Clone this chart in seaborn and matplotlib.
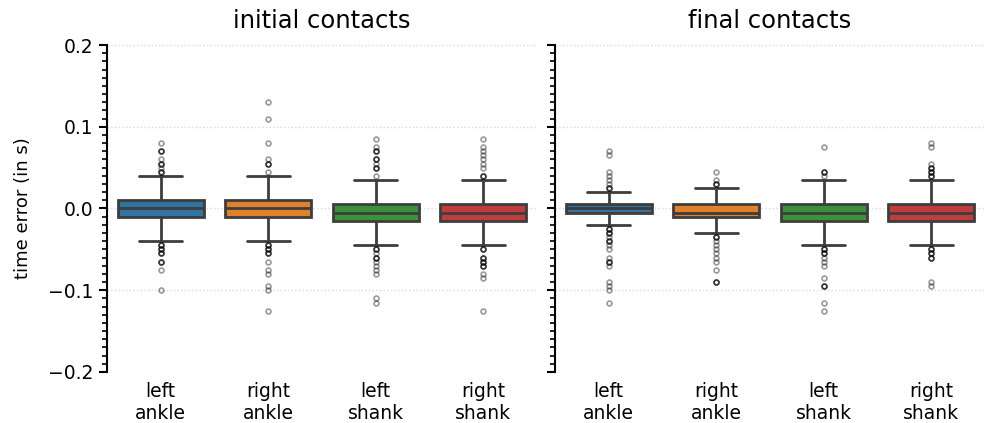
import matplotlib
matplotlib.use("Agg")
import matplotlib.pyplot as plt
from matplotlib.ticker import MultipleLocator
import numpy as np
import pandas as pd
import seaborn as sns

# categories
events = ["initial contacts", "final contacts"]
sensors = ["left\nankle", "right\nankle", "left\nshank", "right\nshank"]

# time errors (s), recorded on a 5 ms grid -> values + how often they occur
# initial contacts
ic_left_ankle_vals = [-0.1, -0.075, -0.065, -0.055, -0.05, -0.045,
                      -0.04, -0.035, -0.03, -0.025, -0.02, -0.015, -0.01, -0.005, 0.0,
                      0.005, 0.01, 0.015, 0.02, 0.025, 0.03, 0.035, 0.04,
                      0.045, 0.05, 0.055, 0.06, 0.07, 0.08]
ic_left_ankle_cnts = [1, 1, 3, 3, 3, 3,
                      3, 5, 8, 12, 18, 25, 60, 45, 50,
                      45, 60, 25, 18, 12, 8, 5, 3,
                      3, 1, 3, 1, 3, 1]

ic_right_ankle_vals = [-0.125, -0.1, -0.095, -0.08, -0.075, -0.065, -0.055, -0.05, -0.045,
                       -0.04, -0.035, -0.03, -0.025, -0.02, -0.015, -0.01, -0.005, 0.0,
                       0.005, 0.01, 0.015, 0.02, 0.025, 0.03, 0.035, 0.04,
                       0.045, 0.055, 0.06, 0.08, 0.11, 0.13]
ic_right_ankle_cnts = [1, 1, 1, 1, 1, 1, 3, 3, 3,
                       3, 5, 8, 12, 18, 25, 60, 45, 50,
                       45, 60, 25, 18, 12, 8, 5, 3,
                       1, 3, 1, 1, 1, 1]

ic_left_shank_vals = [-0.115, -0.11, -0.08, -0.075, -0.07, -0.065, -0.06, -0.055, -0.05,
                      -0.045, -0.04, -0.035, -0.03, -0.025, -0.02, -0.015, -0.01, -0.005,
                      0.0, 0.005, 0.01, 0.015, 0.02, 0.025, 0.03, 0.035,
                      0.04, 0.05, 0.055, 0.06, 0.07, 0.075, 0.085]
ic_left_shank_cnts = [1, 1, 1, 1, 1, 1, 3, 1, 3,
                      3, 5, 8, 12, 18, 25, 60, 45, 50,
                      45, 60, 25, 18, 12, 8, 5, 3,
                      1, 3, 1, 3, 3, 1, 1]

ic_right_shank_vals = [-0.125, -0.085, -0.08, -0.07, -0.065, -0.06, -0.05,
                       -0.045, -0.04, -0.035, -0.03, -0.025, -0.02, -0.015, -0.01, -0.005,
                       0.0, 0.005, 0.01, 0.015, 0.02, 0.025, 0.03, 0.035,
                       0.04, 0.05, 0.055, 0.06, 0.065, 0.07, 0.075, 0.085]
ic_right_shank_cnts = [1, 1, 1, 3, 3, 3, 3,
                       3, 5, 8, 12, 18, 25, 60, 45, 50,
                       45, 60, 25, 18, 12, 8, 5, 3,
                       3, 1, 1, 1, 1, 1, 1, 1]

# final contacts
fc_left_ankle_vals = [-0.115, -0.1, -0.095, -0.09, -0.07, -0.065, -0.06, -0.05, -0.045,
                      -0.04, -0.035, -0.03, -0.025,
                      -0.02, -0.015, -0.01, -0.005, 0.0, 0.005, 0.01, 0.015, 0.02,
                      0.025, 0.03, 0.035, 0.04, 0.045, 0.065, 0.07]
fc_left_ankle_cnts = [1, 1, 1, 1, 1, 3, 1, 1, 1,
                      3, 1, 3, 3,
                      6, 12, 25, 60, 80, 60, 25, 12, 6,
                      3, 1, 1, 1, 1, 1, 1]

fc_right_ankle_vals = [-0.09, -0.075, -0.065, -0.06, -0.055, -0.05, -0.045, -0.04, -0.035,
                       -0.03, -0.025, -0.02, -0.015, -0.01, -0.005, 0.0, 0.005,
                       0.01, 0.015, 0.02, 0.025,
                       0.03, 0.035, 0.045]
fc_right_ankle_cnts = [3, 1, 1, 1, 1, 1, 1, 1, 3,
                       4, 8, 15, 25, 60, 70, 40, 60,
                       20, 12, 8, 4,
                       3, 1, 1]

fc_left_shank_vals = [-0.125, -0.115, -0.095, -0.085, -0.07, -0.065, -0.06, -0.055, -0.05,
                      -0.045, -0.04, -0.035, -0.03, -0.025, -0.02, -0.015, -0.01, -0.005,
                      0.0, 0.005, 0.01, 0.015, 0.02, 0.025, 0.03, 0.035,
                      0.04, 0.045, 0.075]
fc_left_shank_cnts = [1, 1, 3, 1, 1, 1, 1, 3, 3,
                      3, 5, 8, 12, 18, 25, 60, 45, 50,
                      45, 60, 25, 18, 12, 8, 5, 3,
                      1, 3, 1]

fc_right_shank_vals = [-0.095, -0.09, -0.06, -0.055, -0.05,
                       -0.045, -0.04, -0.035, -0.03, -0.025, -0.02, -0.015, -0.01, -0.005,
                       0.0, 0.005, 0.01, 0.015, 0.02, 0.025, 0.03, 0.035,
                       0.04, 0.045, 0.05, 0.055, 0.075, 0.08]
fc_right_shank_cnts = [1, 1, 3, 3, 3,
                       3, 5, 8, 12, 18, 25, 60, 45, 50,
                       45, 60, 25, 18, 12, 8, 5, 3,
                       3, 3, 3, 1, 1, 1]

groups = [
    [(ic_left_ankle_vals, ic_left_ankle_cnts), (ic_right_ankle_vals, ic_right_ankle_cnts),
     (ic_left_shank_vals, ic_left_shank_cnts), (ic_right_shank_vals, ic_right_shank_cnts)],
    [(fc_left_ankle_vals, fc_left_ankle_cnts), (fc_right_ankle_vals, fc_right_ankle_cnts),
     (fc_left_shank_vals, fc_left_shank_cnts), (fc_right_shank_vals, fc_right_shank_cnts)],
]

# long-form table
frames = []
for event, event_groups in zip(events, groups):
    for sensor, (vals, cnts) in zip(sensors, event_groups):
        frames.append(pd.DataFrame({"event": event, "sensor": sensor,
                                    "error": np.repeat(vals, cnts)}))
df = pd.concat(frames, ignore_index=True)

sns.set_style("ticks")
plt.rcParams["font.family"] = ["DejaVu Sans"]
plt.rcParams["text.color"] = "black"
plt.rcParams["axes.labelcolor"] = "black"
plt.rcParams["xtick.color"] = "black"
plt.rcParams["ytick.color"] = "black"

fig, axes = plt.subplots(1, 2, figsize=(9.96, 4.23), dpi=100, sharey=True)
fig.subplots_adjust(left=0.1074, right=0.989, top=0.8936, bottom=0.1206, wspace=0.042)

for ax, event in zip(axes, events):
    d = df[df["event"] == event]
    sns.boxplot(data=d, x="sensor", y="error", hue="sensor", order=sensors,
                hue_order=sensors, palette="tab10", legend=False, ax=ax,
                width=0.8, linewidth=2, whis=1.6,
                flierprops=dict(marker="o", markersize=3.5, markerfacecolor="none",
                                markeredgecolor="black", markeredgewidth=1.2, alpha=0.4))
    ax.set_title(event, fontsize=17.5, pad=12)
    ax.set_xlabel("")
    ax.set_ylabel("")
    ax.set_ylim(-0.2, 0.2)
    ax.yaxis.set_major_locator(MultipleLocator(0.1))
    ax.yaxis.set_minor_locator(MultipleLocator(0.01))
    ax.grid(axis="y", which="major", linestyle=":", color="0.85", linewidth=1)
    ax.set_axisbelow(True)
    ax.tick_params(axis="y", which="major", length=6, width=1.5, labelsize=13.5)
    ax.tick_params(axis="y", which="minor", length=3.5, width=1.2)
    ax.tick_params(axis="x", length=0, labelsize=13.5, pad=7)
    sns.despine(ax=ax, bottom=True)
    ax.spines["left"].set_linewidth(1.5)
    ax.spines["left"].set_color("black")

axes[0].set_ylabel("time error (in s)", fontsize=13, labelpad=12)

plt.savefig("out.png", dpi=100)
